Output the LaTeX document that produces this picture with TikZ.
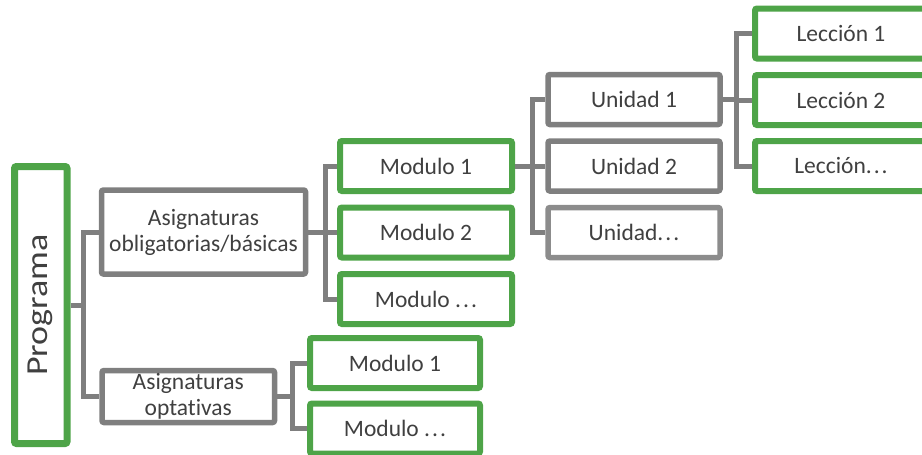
\documentclass[tikz,border=0pt]{standalone}
\usepackage{fontspec}
\usepackage{graphicx}
\setmainfont[Ligatures={TeX,NoCommon}]{Carlito}
\definecolor{boxgreen}{RGB}{78,164,72}
\definecolor{boxgray}{RGB}{127,127,127}
\definecolor{boxgraylight}{RGB}{140,140,140}
\definecolor{txt}{RGB}{64,64,64}
\tikzset{
  base/.style={rectangle, rounded corners=2pt, fill=white, inner sep=0pt,
    text=txt, align=center, font={\fontsize{23.5}{26}\selectfont}},
  greenbox/.style={base, draw=boxgreen, line width=6pt},
  graybox/.style={base, draw=boxgray, line width=5.5pt},
  itembox/.style={minimum width=172pt, minimum height=50pt},
  conn/.style={draw=boxgray, line width=5pt}
}
% three spaced dots
\newcommand{\dotsx}{.\kern2pt.\kern2pt.}
\begin{document}
\begin{tikzpicture}[x=1pt, y=-1pt]
\useasboundingbox (0,0) rectangle (922,455);
\clip (0,0) rectangle (922,455);

% root
\node[greenbox, line width=7pt, minimum width=52.5pt, minimum height=277pt] (prog) at (40.75,305)
  {\rotatebox{90}{\scalebox{1.18}[1]{\fontsize{30.5}{31}\selectfont Programa}}};

% second level
\node[graybox, minimum width=204pt, minimum height=84pt] (obl) at (203.5,232)
  {Asignaturas\\obligatorias/básicas};
\node[graybox, minimum width=172.5pt, minimum height=52pt] (opt) at (188.25,396.5)
  {Asignaturas\\optativas};

% modules of the compulsory block
\node[greenbox, itembox] (m1) at (426,166) {Modulo 1};
\node[greenbox, itembox] (m2) at (426,232.5) {Modulo 2};
\node[greenbox, itembox] (m3) at (426,299) {Modulo \dotsx};

% modules of the optional block
\node[greenbox, itembox, minimum width=170pt] (o1) at (395,363) {Modulo 1};
\node[greenbox, itembox, minimum width=170pt] (o2) at (395,428.5) {Modulo \dotsx};

% units
\node[graybox, itembox] (u1) at (634,99.5) {Unidad 1};
\node[graybox, itembox] (u2) at (634,166) {Unidad 2};
\node[graybox, itembox, draw=boxgraylight] (u3) at (634,232.5) {Unidad\dotsx};

% lessons
\node[greenbox, itembox] (l1) at (841,33.5) {Lección 1};
\node[greenbox, itembox] (l2) at (841,100) {Lección 2};
\node[greenbox, itembox] (l3) at (841,166) {Lección\dotsx};

% connectors
\draw[conn] (prog.east) -- ++(12.5,0) coordinate (b0) |- (obl.west);
\draw[conn] (b0) |- (opt.west);
\draw[conn] (obl.east) -- ++(17,0) coordinate (b1) |- (m1.west);
\draw[conn] (b1) |- (m2.west);
\draw[conn] (b1) |- (m3.west);
\draw[conn] (opt.east) -- ++(15,0) coordinate (b2) |- (o1.west);
\draw[conn] (b2) |- (o2.west);
\draw[conn] (m1.east) -- ++(17,0) coordinate (b3) |- (u1.west);
\draw[conn] (b3) |- (u2.west);
\draw[conn] (b3) |- (u3.west);
\draw[conn] (u1.east) -- ++(14,0) coordinate (b4) |- (l1.west);
\draw[conn] (b4) |- (l2.west);
\draw[conn] (b4) |- (l3.west);
\end{tikzpicture}
\end{document}
